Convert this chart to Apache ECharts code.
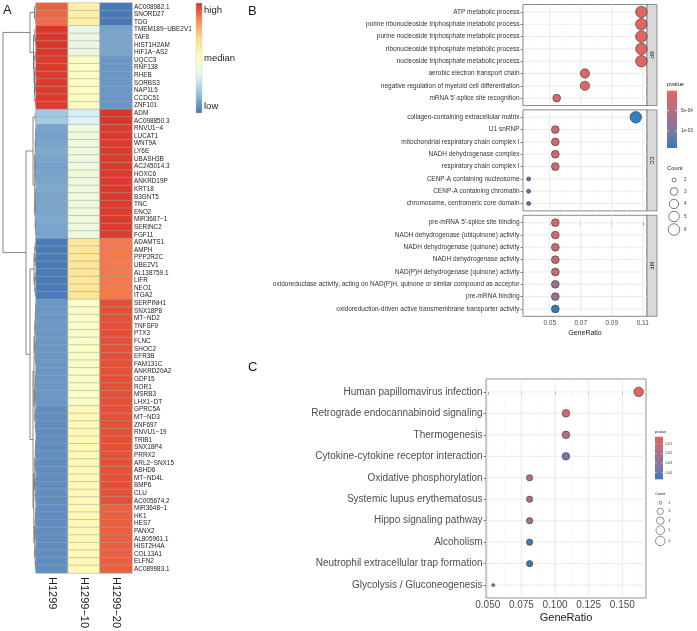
<!DOCTYPE html>
<html><head><meta charset="utf-8">
<script src="https://cdn.jsdelivr.net/npm/echarts@6/dist/echarts.min.js"></script>
<style>html,body{margin:0;padding:0;background:#fff}#c{width:697px;height:631px}</style>
</head><body><div id="c"></div>
<script>
// ---------------- Panel A data ----------------
const genes = ['AC008982.1','SNORD27','TDG','TMEM189−UBE2V1','TAF8','HIST1H2AM','HIF1A−AS2','UQCC3','RNF138','RHEB','SORBS3','NAP1L5','CCDC51','ZNF101','ADM','AC098850.3','RNVU1−4','LUCAT1','WNT9A','LY6E','UBASH3B','AC245014.3','HOXC6','ANKRD19P','KRT18','B3GNT5','TNC','ENO2','MIR3687−1','SERINC2','FGF11','ADAMTS1','AMPH','PPP2R2C','UBE2V1','AL138759.1','LIFR','NEO1','ITGA2','SERPINH1','SNX18P8','MT−ND2','TNFSF9','PTX3','FLNC','SHOC2','EFR3B','FAM131C','ANKRD20A2','GDF15','ROR1','MSRB3','LHX1−DT','GPRC5A','MT−ND3','ZNF697','RNVU1−19','TRIB1','SNX18P4','PRRX2','ARL2−SNX15','ABHD6','MT−ND4L','BMP6','CLU','AC005674.2','MIR3648−1','HK1','HES7','PANX2','AL805961.1','HIST2H4A','COL13A1','ELFN2','AC089983.1'];
const samples = ['H1299','H1299−10','H1299−20'];
const exprH1299 = [0.95,0.93,0.90,
 1.12,1.12,1.12,1.12,1.10,1.10,1.10,1.10,1.10,1.10,1.10,
 -0.70,-0.68,
 -0.90,-0.92,-0.90,-0.88,-0.90,-0.92,-0.90,-0.90,-0.88,-0.90,-0.90,-0.90,-0.88,-0.90,-0.90,
 -1.12,-1.12,-1.12,-1.12,-1.12,-1.12,-1.12,-1.12,
 -0.97,-0.97,-0.97,-0.97,-0.97,-0.97,-0.97,-0.97,-0.97,-0.97,-0.97,-0.97,-0.97,-0.97,
 -1.02,-1.02,-1.02,-1.02,-1.02,-1.02,-1.02,-1.02,-1.02,-1.02,-1.02,-1.02,-1.02,-1.02,-1.02,-1.02,-1.02,-1.02,-1.02,-1.02,-1.02,-1.02];
const exprH1299_10 = [0.18,0.20,0.20,
 -0.25,-0.25,-0.25,-0.25,-0.03,-0.03,-0.03,-0.03,-0.03,-0.03,-0.03,
 -0.42,-0.40,
 -0.20,-0.20,-0.18,-0.20,-0.22,-0.20,-0.18,-0.20,-0.20,-0.20,-0.18,-0.20,-0.20,-0.20,-0.20,
 0.30,0.30,0.30,0.30,0.30,0.30,0.30,0.30,
 -0.05,-0.05,-0.05,-0.05,-0.05,-0.05,-0.05,-0.05,-0.05,-0.05,-0.05,-0.05,-0.05,-0.05,
 0.08,0.08,0.08,0.08,0.08,0.08,0.08,0.08,0.08,0.08,0.08,0.08,0.08,0.08,0.08,0.08,0.08,0.08,0.08,0.08,0.08,0.08];
const exprH1299_20 = [-1.13,-1.13,-1.13,
 -0.90,-0.90,-0.90,-0.90,-0.97,-0.97,-0.97,-0.97,-0.97,-0.97,-0.97,
 1.13,1.13,
 1.10,1.10,1.10,1.10,1.10,1.10,1.10,1.10,1.10,1.10,1.10,1.10,1.10,1.10,1.10,
 0.85,0.85,0.85,0.85,0.85,0.85,0.85,0.85,
 1.02,1.02,1.02,1.02,1.02,1.02,1.02,1.02,1.02,1.02,1.02,1.02,1.02,1.02,
 1.02,1.02,1.02,1.02,1.02,1.02,1.02,1.02,1.02,1.02,1.02,1.02,1.02,0.95,0.95,0.95,0.95,0.95,0.95,0.95,0.95,0.95];
const heatLegendLabels = ['high','median','low'];

// ---------------- Panel B data ----------------
const bpTerms = ['ATP metabolic process','purine ribonucleoside triphosphate metabolic process','purine nucleoside triphosphate metabolic process','ribonucleoside triphosphate metabolic process','nucleoside triphosphate metabolic process','aerobic electron transport chain','negative regulation of myeloid cell differentiation',"mRNA 5'-splice site recognition"];
const bpRatio = [0.1091,0.1091,0.1091,0.1091,0.1091,0.0727,0.0727,0.0545];
const bpCount = [6,6,6,6,6,4,4,3];
const bpP = [1.5e-5,2.0e-5,2.2e-5,3.0e-5,4.0e-5,5.0e-5,6.0e-5,1.0e-4];

const ccTerms = ['collagen-containing extracellular matrix','U1 snRNP','mitochondrial respiratory chain complex I','NADH dehydrogenase complex','respiratory chain complex I','CENP-A containing nucleosome','CENP-A containing chromatin','chromosome, centromeric core domain'];
const ccRatio = [0.1055,0.0536,0.0536,0.0536,0.0536,0.0364,0.0364,0.0364];
const ccCount = [6,3,3,3,3,2,2,2];
const ccP = [1.42e-3,2.4e-4,2.7e-4,2.7e-4,2.7e-4,1.22e-3,1.22e-3,1.22e-3];

const mfTerms = ["pre-mRNA 5'-splice site binding",'NADH dehydrogenase (ubiquinone) activity','NADH dehydrogenase (quinone) activity','NADH dehydrogenase activity','NAD(P)H dehydrogenase (quinone) activity','oxidoreductase activity, acting on NAD(P)H, quinone or similar compound as acceptor','pre-mRNA binding','oxidoreduction-driven active transmembrane transporter activity'];
const mfRatio = [0.0536,0.0536,0.0536,0.0536,0.0536,0.0536,0.0536,0.0536];
const mfCount = [3,3,3,3,3,3,3,3];
const mfP = [1.2e-4,2.9e-4,2.9e-4,2.9e-4,3.1e-4,7.3e-4,7.6e-4,1.40e-3];

const facetNames = ['BP','CC','MF'];
const bTicks = [0.05,0.07,0.09,0.11];
const bMinorTicks = [0.04,0.06,0.08,0.10];
const bPTicks = [5e-4,1e-3];
const bPTickLabels = ['5e-04','1e-03'];

// ---------------- Panel C data ----------------
const keggTerms = ['Human papillomavirus infection','Retrograde endocannabinoid signaling','Thermogenesis','Cytokine-cytokine receptor interaction','Oxidative phosphorylation','Systemic lupus erythematosus','Hippo signaling pathway','Alcoholism','Neutrophil extracellular trap formation','Glycolysis / Gluconeogenesis'];
const keggRatio = [0.1622,0.1081,0.1081,0.1081,0.0811,0.0811,0.0811,0.0811,0.0811,0.0541];
const keggCount = [6,4,4,4,3,3,3,3,3,2];
const keggP = [0.0024,0.0075,0.0158,0.036,0.0195,0.021,0.0248,0.045,0.047,0.029];
const cTicks = [0.05,0.075,0.1,0.125,0.15];
const cMinorTicks = [0.0625,0.0875,0.1125,0.1375,0.1625];
const cPTicks = [0.01,0.02,0.03,0.04];
const cPTickLabels = ['0.01','0.02','0.03','0.04'];

const countLevels = [2,3,4,5,6];

// ---------------- styles ----------------
const heatColors = ['#4575B4','#91BFDB','#E0F3F8','#FFFFBF','#FEE090','#FC8D59','#D73027'];
const pColors = ['#e06663','#c36c78','#a07090','#787aa8','#327eba'];
const FONT = "'Liberation Sans', Arial, sans-serif";

// dendrogram structure: [height, left, right], leaves = row index
function comb(a,b,h){ if(a===b) return a; const m=Math.floor((a+b)/2); return [h, comb(a,m,h*0.6), comb(m+1,b,h*0.6)]; }
const dendro = [33,
  [6, [1.5, 0, [0.8, 1, 2]], [2.5, [1.2, 3, [0.6, 4, 5]], [2, [1, 6, 7], [1.5, [0.8, 8, 9], [1.2, [0.6, 10, 11], [0.5, 12, 13]]]]]],
  [10,
    [3, [0.8, 14, 15], comb(16, 30, 1.3)],
    [6, comb(31, 38, 2), [3, comb(39, 56, 2), comb(57, 74, 2.2)]]
  ]
];
const segs = [];
function walk(n){
  if(typeof n === 'number') return {y:n, h:0};
  const L = walk(n[1]), R = walk(n[2]), h = n[0];
  segs.push([h, L.y, h, R.y]);
  segs.push([h, L.y, L.h, L.y]);
  segs.push([h, R.y, R.h, R.y]);
  return {y:(L.y+R.y)/2, h};
}
walk(dendro);

const heatData = [];
[exprH1299, exprH1299_10, exprH1299_20].forEach((col,j)=>col.forEach((v,i)=>heatData.push([j,i,v])));

// scales
const cMin = Math.min(...countLevels), cMax = Math.max(...countLevels);
const sizeB = c => 4 + 7.5*Math.sqrt((c-cMin)/(cMax-cMin));
const sizeC = c => 3 + 6.5*Math.sqrt((c-cMin)/(cMax-cMin));
function expand(arr){ const mn=Math.min(...arr), mx=Math.max(...arr), r=mx-mn; return [mn-0.05*r, mx+0.05*r]; }
const [bxMin,bxMax] = expand(bpRatio.concat(ccRatio, mfRatio));
const [cxMin,cxMax] = expand(keggRatio);
const bAllP = bpP.concat(ccP, mfP);
const bpMin = Math.min(...bAllP), bpMax = Math.max(...bAllP);
const kpMin = Math.min(...keggP), kpMax = Math.max(...keggP);

// layout
const bLeft = 523, bWidth = 124, bH = 101, bTops = [4.5, 109.9, 215.3];
const cLeft = 486, cTop = 379, cWidth = 160, cHeight = 219;

const grids = [
  {left:3, top:3, width:33, height:570},
  {left:36, top:3, width:96, height:570},
  ...bTops.map(t=>({left:bLeft, top:t, width:bWidth, height:bH, show:true, borderColor:'#555', borderWidth:0.7, backgroundColor:'#fff'})),
  {left:cLeft, top:cTop, width:cWidth, height:cHeight, show:true, borderColor:'#666', borderWidth:0.7, backgroundColor:'#fff'}
].map(g=>Object.assign({outerBoundsMode:'none', containLabel:false}, g));

const termSets = [bpTerms, ccTerms, mfTerms];
const xAxes = [
  {type:'value', gridIndex:0, min:0, max:33, inverse:true, show:false},
  {type:'category', gridIndex:1, data:samples, axisLine:{show:false}, axisTick:{show:false}, splitLine:{show:false},
   axisLabel:{rotate:-90, interval:0, fontSize:11, color:'#222', margin:4, fontFamily:FONT}},
  ...[2,3,4].map(g=>({type:'value', gridIndex:g, min:bxMin, max:bxMax, axisLine:{show:false}, splitLine:{show:false},
   axisTick:{show:g===4, customValues:bTicks, length:2.5, lineStyle:{color:'#333', width:0.6}},
   axisLabel:{show:g===4, customValues:bTicks, formatter:v=>v.toFixed(2), fontSize:6.5, color:'#4D4D4D', margin:3.5, fontFamily:FONT},
   name:g===4?'GeneRatio':'', nameLocation:'middle', nameGap:13, nameTextStyle:{fontSize:7, color:'#1a1a1a', fontFamily:FONT}})),
  {type:'value', gridIndex:5, min:cxMin, max:cxMax, axisLine:{show:false}, splitLine:{show:false},
   axisTick:{show:true, customValues:cTicks, length:2.5, lineStyle:{color:'#333', width:0.6}},
   axisLabel:{customValues:cTicks, formatter:v=>v.toFixed(3), fontSize:10, color:'#4D4D4D', margin:2.5, fontFamily:FONT},
   name:'GeneRatio', nameLocation:'middle', nameGap:14, nameTextStyle:{fontSize:11, color:'#1a1a1a', fontFamily:FONT}}
];
const yAxes = [
  {type:'value', gridIndex:0, min:-0.5, max:genes.length-0.5, inverse:true, show:false},
  {type:'category', gridIndex:1, data:genes, inverse:true, position:'right', axisLine:{show:false}, axisTick:{show:false}, splitLine:{show:false},
   axisLabel:{interval:0, fontSize:6.4, color:'#222', margin:2, fontFamily:FONT}},
  ...[2,3,4].map((g,k)=>{
    const terms = termSets[k]; const idx = terms.map((_,i)=>i);
    return {type:'value', gridIndex:g, min:-0.6, max:terms.length-0.4, inverse:true, axisLine:{show:false}, splitLine:{show:false},
      axisTick:{show:true, customValues:idx, length:2.5, lineStyle:{color:'#333', width:0.6}},
      axisLabel:{customValues:idx, formatter:v=>terms[Math.round(v)], fontSize:6.5, color:'#333', margin:3.5, fontFamily:FONT}};
  }),
  {type:'value', gridIndex:5, min:-0.6, max:keggTerms.length-0.4, inverse:true, axisLine:{show:false}, splitLine:{show:false},
   axisTick:{show:true, customValues:keggTerms.map((_,i)=>i), length:2.5, lineStyle:{color:'#333', width:0.6}},
   axisLabel:{customValues:keggTerms.map((_,i)=>i), formatter:v=>keggTerms[Math.round(v)], fontSize:10, color:'#4D4D4D', margin:3.5, fontFamily:FONT}}
];

function gridLines(ax, majors, minors, nRows, xMin, xMax){
  const data = [];
  minors.forEach(v=>data.push([0,v,1]));
  majors.forEach(v=>data.push([0,v,0]));
  for(let i=0;i<nRows;i++) data.push([1,i,0]);
  const yMin=-0.6, yMax=nRows-0.4;
  return {type:'custom', xAxisIndex:ax, yAxisIndex:ax, silent:true, z:1, data,
    renderItem:(p,api)=>{
      const t=api.value(0), v=api.value(1), minor=api.value(2);
      let a,b;
      if(t===0){ if(v<xMin||v>xMax) return; a=api.coord([v,yMin]); b=api.coord([v,yMax]); }
      else { a=api.coord([xMin,v]); b=api.coord([xMax,v]); }
      return {type:'line', shape:{x1:a[0],y1:a[1],x2:b[0],y2:b[1]}, style:{stroke:minor?'#f3f3f3':'#e6e6e6', lineWidth:minor?0.5:0.8}};
    }};
}
function dots(ax, ratio, count, pv, sizeFn){
  return {type:'scatter', xAxisIndex:ax, yAxisIndex:ax, z:3, silent:true,
    data: ratio.map((r,i)=>[r,i,count[i],pv[i]]),
    symbolSize: v=>sizeFn(v[2]),
    itemStyle:{borderColor:'#333', borderWidth:0.6, opacity:1}};
}

const series = [
  {type:'custom', xAxisIndex:0, yAxisIndex:0, silent:true, data:segs, encode:{x:[0,2], y:[1,3]},
   renderItem:(p,api)=>{ const a=api.coord([api.value(0),api.value(1)]), b=api.coord([api.value(2),api.value(3)]);
     return {type:'line', shape:{x1:a[0],y1:a[1],x2:b[0],y2:b[1]}, style:{stroke:'#555', lineWidth:0.7}}; }},
  {type:'heatmap', xAxisIndex:1, yAxisIndex:1, data:heatData, silent:true,
   itemStyle:{borderColor:'#a0a0a0', borderWidth:0.5}},
  gridLines(2, bTicks, bMinorTicks, bpTerms.length, bxMin, bxMax),
  gridLines(3, bTicks, bMinorTicks, ccTerms.length, bxMin, bxMax),
  gridLines(4, bTicks, bMinorTicks, mfTerms.length, bxMin, bxMax),
  gridLines(5, cTicks, cMinorTicks, keggTerms.length, cxMin, cxMax),
  dots(2, bpRatio, bpCount, bpP, sizeB),
  dots(3, ccRatio, ccCount, ccP, sizeB),
  dots(4, mfRatio, mfCount, mfP, sizeB),
  dots(5, keggRatio, keggCount, keggP, sizeC)
];

const visualMap = [
  {type:'continuous', show:false, seriesIndex:1, dimension:2, min:-1.15, max:1.15, inRange:{color:heatColors}},
  {type:'continuous', show:false, seriesIndex:[6,7,8], dimension:3, min:bpMin, max:bpMax, inRange:{color:pColors}},
  {type:'continuous', show:false, seriesIndex:9, dimension:3, min:kpMin, max:kpMax, inRange:{color:pColors}}
];

// ---------------- graphics (legends, strips, panel letters) ----------------
const G = [];
const txt = (x,y,text,size,opt={}) => G.push(Object.assign({type:'text', x, y, silent:true,
  style:Object.assign({text, fontSize:size, fontFamily:FONT, fill:'#1a1a1a', align:'left', verticalAlign:'middle'}, opt.style||{})}, opt.el||{}));
const grad = (cols) => new echarts.graphic.LinearGradient(0,0,0,1, cols.map((c,i)=>({offset:i/(cols.length-1), color:c})));

txt(3, 10, 'A', 13);
txt(248, 11, 'B', 13);
txt(248, 367, 'C', 13);

// heatmap legend
G.push({type:'rect', shape:{x:196, y:3, width:6, height:110}, style:{fill:grad(heatColors.slice().reverse()), stroke:'#c8c8c8', lineWidth:0.4}, silent:true});
txt(204, 10, heatLegendLabels[0], 9.5, {style:{fill:'#222'}});
txt(204, 58, heatLegendLabels[1], 9.5, {style:{fill:'#222'}});
txt(204, 106, heatLegendLabels[2], 9.5, {style:{fill:'#222'}});

// facet strips
bTops.forEach((t,k)=>{
  G.push({type:'rect', shape:{x:bLeft+bWidth, y:t, width:10, height:bH}, style:{fill:'#D9D9D9', stroke:'#555', lineWidth:0.6}, silent:true});
  G.push({type:'text', x:bLeft+bWidth+5, y:t+bH/2, rotation:-Math.PI/2, silent:true,
    style:{text:facetNames[k], fontSize:5.5, fontFamily:FONT, fill:'#1a1a1a', align:'center', verticalAlign:'middle'}});
});

// B pvalue legend
(function(){
  const x=667, y0=90.7, h=57.3, w=10;
  txt(x, 84, 'pvalue', 5.8);
  G.push({type:'rect', shape:{x, y:y0, width:w, height:h}, style:{fill:grad(pColors)}, silent:true});
  bPTicks.forEach((p,i)=>{
    const y = y0 + (p-bpMin)/(bpMax-bpMin)*h;
    G.push({type:'line', shape:{x1:x, y1:y, x2:x+2, y2:y}, style:{stroke:'#fff', lineWidth:0.6}, silent:true});
    G.push({type:'line', shape:{x1:x+w-2, y1:y, x2:x+w, y2:y}, style:{stroke:'#fff', lineWidth:0.6}, silent:true});
    txt(x+w+4, y, bPTickLabels[i], 4.6, {style:{fill:'#333'}});
  });
  txt(x, 168, 'Count', 5.8);
  const ys=[180,191.5,204,216.5,229.5];
  countLevels.forEach((c,i)=>{
    G.push({type:'circle', shape:{cx:674, cy:ys[i], r:sizeB(c)/2}, style:{fill:'#fff', stroke:'#222', lineWidth:0.6}, silent:true});
    txt(684, ys[i], String(c), 4.6, {style:{fill:'#333'}});
  });
})();

// C pvalue legend
(function(){
  const x=655, y0=436.7, h=42.6, w=8;
  txt(x, 432, 'pvalue', 3.8);
  G.push({type:'rect', shape:{x, y:y0, width:w, height:h}, style:{fill:grad(pColors)}, silent:true});
  cPTicks.forEach((p,i)=>{
    const y = y0 + (p-kpMin)/(kpMax-kpMin)*h;
    G.push({type:'line', shape:{x1:x, y1:y, x2:x+1.6, y2:y}, style:{stroke:'#fff', lineWidth:0.5}, silent:true});
    G.push({type:'line', shape:{x1:x+w-1.6, y1:y, x2:x+w, y2:y}, style:{stroke:'#fff', lineWidth:0.5}, silent:true});
    txt(x+w+2.5, y, cPTickLabels[i], 3.4, {style:{fill:'#333'}});
  });
  txt(x, 494, 'Count', 3.8);
  const ys=[502.7,511.3,520.7,530.3,541];
  countLevels.forEach((c,i)=>{
    G.push({type:'circle', shape:{cx:660.3, cy:ys[i], r:sizeC(c)/2}, style:{fill:'#fff', stroke:'#222', lineWidth:0.5}, silent:true});
    txt(668.5, ys[i], String(c), 3.4, {style:{fill:'#333'}});
  });
})();

const chart = echarts.init(document.getElementById('c'), null, {renderer:'canvas'});
chart.setOption({
  animation:false, backgroundColor:'#fff', textStyle:{fontFamily:FONT},
  grid:grids, xAxis:xAxes, yAxis:yAxes, visualMap, series, graphic:G
});
</script></body></html>
